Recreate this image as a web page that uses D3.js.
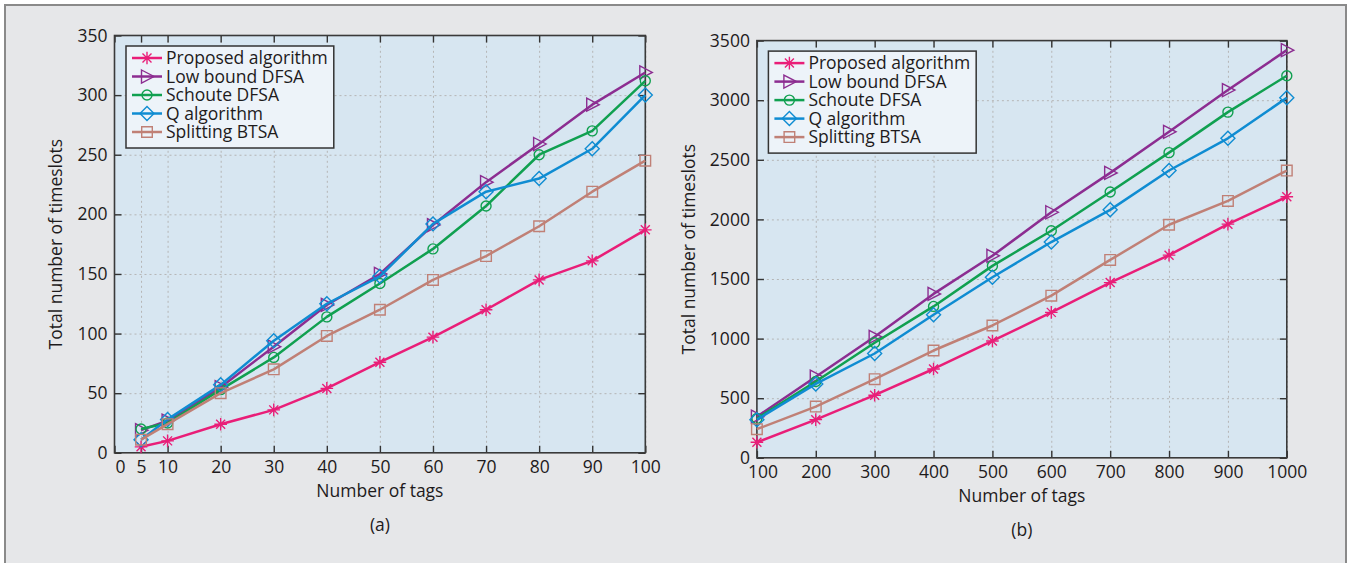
<!DOCTYPE html>
<html>
<head>
<meta charset="utf-8">
<script src="https://cdn.jsdelivr.net/npm/d3@7"></script>
<style>
body { margin: 0; background: #fff; }
svg text { font-family: "Open Sans", sans-serif; fill: #1e1b1c; }
.grid line { stroke: #b5b5b5; stroke-width: 1; stroke-dasharray: 2,3; }
.ticks line { stroke: #333; stroke-width: 1.4; }
</style>
</head>
<body>
<svg id="fig" width="1350" height="563"></svg>
<script>
var seriesNames = ["Proposed algorithm", "Low bound DFSA", "Schoute DFSA", "Q algorithm", "Splitting BTSA"];
var seriesColors = ["#e91e78", "#8c2d91", "#10a050", "#0f8cd2", "#c08076"];
var seriesMarkers = ["asterisk", "triangle", "circle", "diamond", "square"];

// panel (a)
var tagsA = [5, 10, 20, 30, 40, 50, 60, 70, 80, 90, 100];
var proposedA = [5, 10, 24, 36, 54, 76, 97, 120, 145, 161, 187];
var lowBoundA = [19, 27, 55, 89, 124, 150, 191, 227, 259, 292, 319];
var schouteA = [20, 25, 53, 80, 114, 142, 171, 207, 250, 270, 312];
var qAlgA = [11, 28, 57, 94, 125, 148, 192, 219, 230, 255, 300];
var splittingA = [11, 24, 50, 70, 98, 120, 145, 165, 190, 219, 245];
var xTicksA = [0, 5, 10, 20, 30, 40, 50, 60, 70, 80, 90, 100];
var yTicksA = [0, 50, 100, 150, 200, 250, 300, 350];

// panel (b)
var tagsB = [100, 200, 300, 400, 500, 600, 700, 800, 900, 1000];
var proposedB = [130, 320, 525, 745, 980, 1220, 1470, 1700, 1960, 2190];
var lowBoundB = [345, 680, 1015, 1375, 1695, 2060, 2390, 2735, 3085, 3420];
var schouteB = [330, 640, 965, 1270, 1610, 1905, 2230, 2560, 2900, 3205];
var qAlgB = [320, 620, 875, 1200, 1515, 1810, 2080, 2410, 2680, 3020];
var splittingB = [240, 430, 660, 900, 1110, 1360, 1660, 1955, 2155, 2410];
var xTicksB = [100, 200, 300, 400, 500, 600, 700, 800, 900, 1000];
var yTicksB = [0, 500, 1000, 1500, 2000, 2500, 3000, 3500];

var fontSize = 17.5;
var fmt = d3.format("d");

var svg = d3.select("#fig");

// grey figure frame
svg.append("rect")
    .attr("x", 5).attr("y", 5)
    .attr("width", 1341).attr("height", 570)
    .attr("fill", "#e6e7e9")
    .attr("stroke", "#8a8a8a")
    .attr("stroke-width", 2);

function markerPath(type) {
  switch (type) {
    case "asterisk": return "M-6.3,0L6.3,0M0,-6.3L0,6.3M-4.5,-4.5L4.5,4.5M-4.5,4.5L4.5,-4.5";
    case "triangle": return "M-5.5,-6.5L7,0L-5.5,6.5Z";
    case "circle": return "M5,0A5,5 0 1,1 -5,0A5,5 0 1,1 5,0Z";
    case "diamond": return "M0,-7L7,0L0,7L-7,0Z";
    default: return "M-5.3,-5.3h10.6v10.6h-10.6Z";
  }
}

function drawPanel(p) {
  var x = d3.scaleLinear().domain(p.xDomain).range([p.left, p.right]);
  var y = d3.scaleLinear().domain(p.yDomain).range([p.bottom, p.top]);
  var w = p.right - p.left, h = p.bottom - p.top;

  var g = svg.append("g");

  g.append("rect")
      .attr("x", p.left).attr("y", p.top)
      .attr("width", w).attr("height", h)
      .attr("fill", "#d7e6f1");

  // dotted grid
  g.append("g").attr("class", "grid")
      .attr("transform", "translate(0," + p.bottom + ")")
      .call(d3.axisBottom(x).tickValues(p.xTicks.slice(1)).tickSize(-h).tickFormat(""))
      .call(function(s) { s.select(".domain").remove(); });
  g.append("g").attr("class", "grid")
      .attr("transform", "translate(" + p.left + ",0)")
      .call(d3.axisLeft(y).tickValues(p.yTicks.slice(1, -1)).tickSize(-w).tickFormat(""))
      .call(function(s) { s.select(".domain").remove(); });

  // inner ticks on all four sides
  var xb = g.append("g").attr("class", "ticks")
      .attr("transform", "translate(0," + p.bottom + ")")
      .call(d3.axisBottom(x).tickValues(p.xTicks).tickFormat(fmt).tickSize(-7).tickPadding(8));
  g.append("g").attr("class", "ticks")
      .attr("transform", "translate(0," + p.top + ")")
      .call(d3.axisTop(x).tickValues(p.xTicks).tickSize(-7).tickFormat(""));
  g.append("g").attr("class", "ticks")
      .attr("transform", "translate(" + p.left + ",0)")
      .call(d3.axisLeft(y).tickValues(p.yTicks).tickFormat(fmt).tickSize(-7).tickPadding(7));
  g.append("g").attr("class", "ticks")
      .attr("transform", "translate(" + p.right + ",0)")
      .call(d3.axisRight(y).tickValues(p.yTicks).tickSize(-7).tickFormat(""));

  g.selectAll(".ticks").attr("font-family", null).attr("font-size", fontSize)
      .select(".domain").remove();
  g.selectAll(".ticks text").attr("fill", "#1e1b1c");
  // first x label sits a little right of its tick
  xb.selectAll(".tick text").filter(function(d, i) { return i === 0; }).attr("dx", 5.5);

  g.append("rect")
      .attr("x", p.left).attr("y", p.top)
      .attr("width", w).attr("height", h)
      .attr("fill", "none")
      .attr("stroke", "#3a3a3a")
      .attr("stroke-width", 1.6);

  // series
  var line = d3.line()
      .x(function(d) { return x(d[0]); })
      .y(function(d) { return y(d[1]); });

  p.series.forEach(function(vals, k) {
    var pts = p.tags.map(function(t, i) { return [t, vals[i]]; });
    var sg = g.append("g");
    sg.append("path")
        .attr("d", line(pts))
        .attr("fill", "none")
        .attr("stroke", seriesColors[k])
        .attr("stroke-width", 2.5)
        .attr("stroke-linejoin", "round");
    sg.selectAll("path.mk")
        .data(pts)
      .enter().append("path")
        .attr("class", "mk")
        .attr("transform", function(d) { return "translate(" + x(d[0]) + "," + y(d[1]) + ")"; })
        .attr("d", markerPath(seriesMarkers[k]))
        .attr("fill", "none")
        .attr("stroke", seriesColors[k])
        .attr("stroke-width", 1.4);
  });

  // legend
  var lx = p.left + 11.5, ly = p.top + 10.5;
  var lg = g.append("g");
  var box = lg.append("rect")
      .attr("x", lx).attr("y", ly)
      .attr("height", 102)
      .attr("fill", "#edf3f9")
      .attr("stroke", "#333")
      .attr("stroke-width", 1.5);
  var maxW = 0;
  seriesNames.forEach(function(name, k) {
    var cy = ly + 12 + k * 18.5;
    lg.append("line")
        .attr("x1", lx + 6).attr("x2", lx + 36)
        .attr("y1", cy).attr("y2", cy)
        .attr("stroke", seriesColors[k])
        .attr("stroke-width", 2.5);
    lg.append("path")
        .attr("transform", "translate(" + (lx + 21) + "," + cy + ")")
        .attr("d", markerPath(seriesMarkers[k]))
        .attr("fill", "none")
        .attr("stroke", seriesColors[k])
        .attr("stroke-width", 1.4);
    var t = lg.append("text")
        .attr("x", lx + 40).attr("y", cy)
        .attr("dy", "0.35em")
        .attr("font-size", fontSize)
        .text(name);
    maxW = Math.max(maxW, t.node().getComputedTextLength());
  });
  box.attr("width", 40 + maxW + 6);

  // axis titles and caption
  g.append("text")
      .attr("x", (p.left + p.right) / 2).attr("y", p.bottom + 38)
      .attr("dy", "0.35em")
      .attr("text-anchor", "middle")
      .attr("font-size", fontSize)
      .text("Number of tags");
  g.append("text")
      .attr("transform", "translate(" + p.yLabelX + "," + (p.top + p.bottom) / 2 + ") rotate(-90)")
      .attr("dy", "0.35em")
      .attr("text-anchor", "middle")
      .attr("font-size", fontSize)
      .text("Total number of timeslots");
  g.append("text")
      .attr("x", (p.left + p.right) / 2).attr("y", p.bottom + 72)
      .attr("dy", "0.35em")
      .attr("text-anchor", "middle")
      .attr("font-size", fontSize)
      .text(p.caption);
}

drawPanel({
  left: 114.5, right: 645.3, top: 35.5, bottom: 452.8,
  xDomain: [0, 100], yDomain: [0, 350],
  xTicks: xTicksA, yTicks: yTicksA,
  tags: tagsA,
  series: [proposedA, lowBoundA, schouteA, qAlgA, splittingA],
  yLabelX: 56, caption: "(a)"
});

drawPanel({
  left: 756.9, right: 1286.8, top: 40.6, bottom: 457.8,
  xDomain: [100, 1000], yDomain: [0, 3500],
  xTicks: xTicksB, yTicks: yTicksB,
  tags: tagsB,
  series: [proposedB, lowBoundB, schouteB, qAlgB, splittingB],
  yLabelX: 688.5, caption: "(b)"
});
</script>
</body>
</html>
